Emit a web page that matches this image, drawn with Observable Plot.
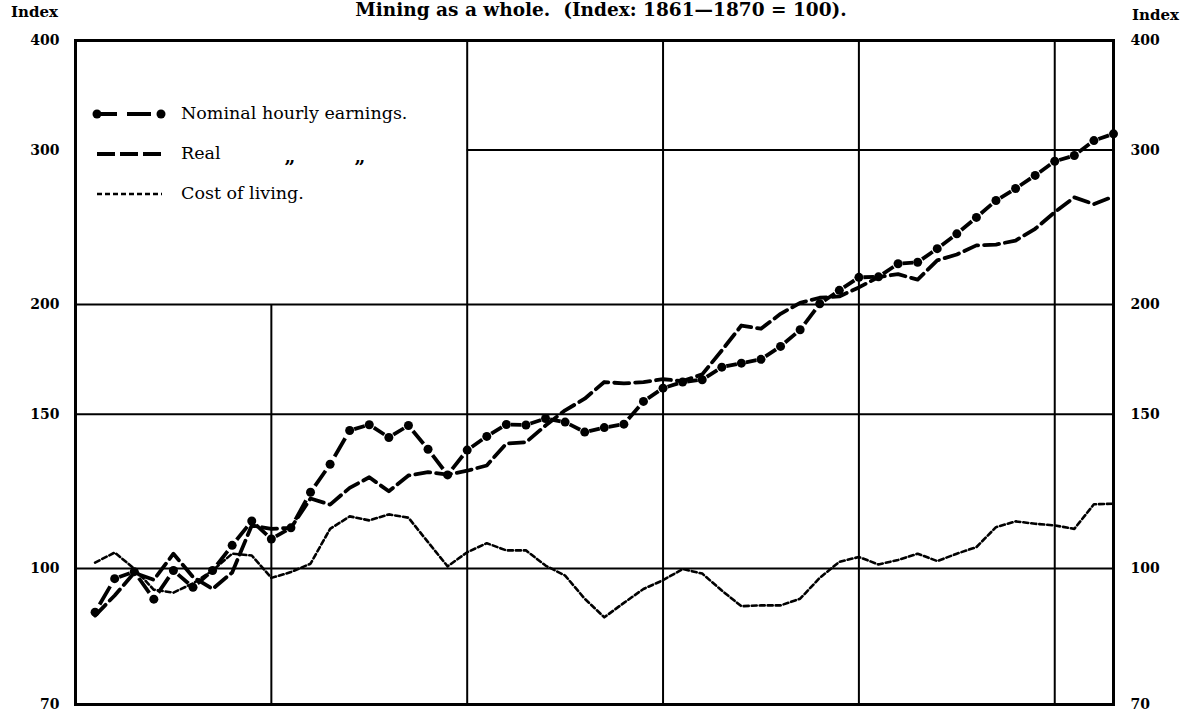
<!DOCTYPE html>
<html><head><meta charset="utf-8">
<script src="https://cdn.jsdelivr.net/npm/d3@7"></script>
<script src="https://cdn.jsdelivr.net/npm/@observablehq/plot@0.6"></script>
<style>
body{margin:0;background:#fff;}
#wrap{position:relative;width:1184px;height:716px;overflow:hidden;}
.t{position:absolute;font-family:"DejaVu Serif",serif;font-weight:bold;white-space:pre;color:#000;line-height:1;}
#legend{position:absolute;left:0;top:0;pointer-events:none;}
</style>
</head><body>
<div id="wrap">
  <div class="t" style="left:601px;top:1px;font-size:18.5px;transform:translateX(-50%);">Mining as a whole.  (Index: 1861—1870 = 100).</div>
  <div class="t" style="left:11px;top:5px;font-size:15px;">Index</div>
  <div class="t" style="left:1132px;top:8px;font-size:15px;">Index</div>
</div>
<script>
// Years 1861–1913
const years = d3.range(1861, 1914);
const nominal = [89.2,97.4,99.2,92.3,99.5,95.2,99.5,106.3,113.3,108.1,
  111.3,122.2,131.5,143.7,145.9,141.1,145.6,136.8,127.9,136.5,
  141.5,146.0,145.8,148.3,146.9,143.1,144.8,146.1,155.1,160.6,
  163.2,164.2,169.7,171.5,173.2,179.2,187.2,200.4,207.6,214.8,
  215.1,222.6,223.5,231.6,240.8,251.4,262.8,271.2,280.7,291.3,
  295.8,307.6,313.1];
const real = [88.4,93.2,98.9,97.1,104.0,97.8,94.8,99.0,112.0,111.0,
  111.3,120.2,118.3,123.6,127.1,122.5,127.7,128.8,128.0,129.3,
  131.1,138.9,139.3,145.6,151.5,156.2,163.2,162.6,163.2,164.4,
  163.6,166.5,177.3,189.3,187.7,195.2,200.9,203.6,204.3,209.2,
  215.0,216.6,213.5,224.6,228.1,233.6,234.1,236.6,244.0,254.9,
  265.0,260.3,265.6];
const cost = [101.6,104.3,100.0,94.6,93.9,96.2,99.5,104.0,103.5,97.6,
  99.1,101.3,111.0,114.7,113.5,115.3,114.3,107.2,100.6,104.4,
  106.9,104.9,104.9,100.8,98.2,92.4,88.0,91.4,94.8,97.0,
  99.9,98.7,94.4,90.6,90.8,90.8,92.4,97.6,101.8,103.1,
  101.1,102.3,104.0,102.0,104.0,105.8,111.5,113.2,112.5,112.0,
  111.0,118.4,118.6];
const yTicks = [70,100,150,200,300,400];
const fullH = [100,150,200];
const fullV = [1880,1890,1900,1910];

const rows = years.map((yr,i)=>({year: yr, nominal: nominal[i], real: real[i], cost: cost[i]}));
const segs = rows.slice(1).map((r,i)=>({x1: rows[i].year, y1: rows[i].nominal, x2: r.year, y2: r.nominal}));

const axisText = {fontFamily: "DejaVu Serif", fontWeight: "bold", fontSize: 14};
const chart = Plot.plot({
  width: 1184, height: 716,
  marginTop: 40, marginBottom: 12, marginLeft: 75, marginRight: 71,
  style: {fontFamily: "DejaVu Serif", fontSize: "14px", color: "#000", background: "transparent"},
  x: {domain: [1860, 1913], axis: null},
  y: {type: "log", domain: [70, 400], axis: null},
  marks: [
    Plot.axisY(yTicks, {anchor: "left", tickSize: 0, tickPadding: 16, tickFormat: d => String(d), label: null, ...axisText}),
    Plot.axisY(yTicks, {anchor: "right", tickSize: 0, tickPadding: 17, tickFormat: d => String(d), label: null, ...axisText}),
    Plot.ruleY(fullH, {stroke: "#000", strokeWidth: 2}),
    Plot.ruleY([300], {x1: 1880, x2: 1913, stroke: "#000", strokeWidth: 2}),
    Plot.ruleX(fullV, {stroke: "#000", strokeWidth: 2}),
    Plot.ruleX([1870], {y1: 70, y2: 200, stroke: "#000", strokeWidth: 2}),
    Plot.frame({stroke: "#000", strokeWidth: 3}),
    Plot.line(rows, {x: "year", y: "cost", stroke: "#000", strokeWidth: 2.6, strokeDasharray: "5,3"}),
    Plot.line(rows, {x: "year", y: "real", stroke: "#000", strokeWidth: 3.8, strokeDasharray: "15,6"}),
    Plot.link(segs, {x1: "x1", y1: "y1", x2: "x2", y2: "y2", stroke: "#000", strokeWidth: 3.8, strokeDasharray: "0,23,54,23"}),
    Plot.dot(rows, {x: "year", y: "nominal", r: 4.5, fill: "#000", stroke: "none"})
  ]
});
document.getElementById("wrap").appendChild(chart);
// scale each nominal dash to its own segment so the dash sits between two dots
chart.querySelectorAll('g[aria-label="link"] path, g[aria-label="link"] line').forEach(p => p.setAttribute("pathLength", "100"));

// Legend (inside the plot area, top-left)
const ns = "http://www.w3.org/2000/svg";
const lg = document.createElementNS(ns, "svg");
lg.setAttribute("id", "legend");
lg.setAttribute("width", 1184); lg.setAttribute("height", 716);
const legendItems = [
  {label: "Nominal hourly earnings.", kind: "nominal"},
  {label: "Real", kind: "real"},
  {label: "Cost of living.", kind: "cost"}
];
function el(tag, attrs, parent){ const e = document.createElementNS(ns, tag); for (const k in attrs) e.setAttribute(k, attrs[k]); (parent||lg).appendChild(e); return e; }
legendItems.forEach((it, i) => {
  const y = 114 + i*40;
  if (it.kind === "nominal") {
    el("circle", {cx: 97, cy: y, r: 4.5, fill: "#000"});
    el("line", {x1: 99, x2: 117, y1: y, y2: y, stroke: "#000", "stroke-width": 4});
    el("line", {x1: 127, x2: 151, y1: y, y2: y, stroke: "#000", "stroke-width": 4});
    el("circle", {cx: 161, cy: y, r: 4.5, fill: "#000"});
  } else if (it.kind === "real") {
    el("line", {x1: 97, x2: 163, y1: y, y2: y, stroke: "#000", "stroke-width": 4, "stroke-dasharray": "18,5"});
  } else {
    el("line", {x1: 97, x2: 162, y1: y, y2: y, stroke: "#000", "stroke-width": 2.4, "stroke-dasharray": "5,3"});
  }
  const t = el("text", {x: 181, y: y + 5, "font-family": "DejaVu Serif", "font-size": 17.5, fill: "#000"});
  t.textContent = it.label;
});
[290, 360].forEach(x => {
  const t = el("text", {x: x, y: 163, "font-family": "DejaVu Serif", "font-weight": "bold", "font-size": 19, "text-anchor": "middle", fill: "#000"});
  t.textContent = "\u201E";
});
document.getElementById("wrap").appendChild(lg);
</script>
</body></html>
